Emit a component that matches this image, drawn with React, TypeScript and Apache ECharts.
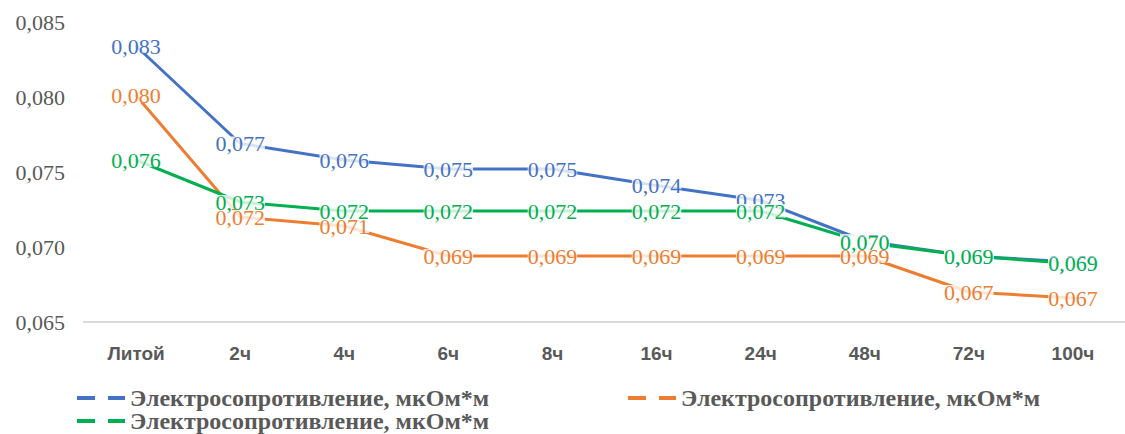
import React, { useEffect, useRef } from "react";
import * as echarts from "echarts";

// Annealing duration categories
const categories = ["Литой", "2ч", "4ч", "6ч", "8ч", "16ч", "24ч", "48ч", "72ч", "100ч"];

// Electrical resistivity, µOhm·m, for three samples
const seriesName = "Электросопротивление, мкОм*м";
const blueValues = [0.0834, 0.0769, 0.0758, 0.0752, 0.0752, 0.0741, 0.0731, 0.0704, 0.0694, 0.069];
const orangeValues = [0.0801, 0.072, 0.0714, 0.0694, 0.0694, 0.0694, 0.0694, 0.0694, 0.067, 0.0666];
const greenValues = [0.0758, 0.073, 0.0724, 0.0724, 0.0724, 0.0724, 0.0724, 0.0703, 0.0694, 0.0689];

// Y axis range
const yMin = 0.065;
const yMax = 0.085;
const yStep = 0.005;

const BLUE = "#4472C4";
const ORANGE = "#ED7D31";
const GREEN = "#00B050";
const GREY = "#595959";
const SERIF = "Liberation Serif";

const fmt = (v: number) => v.toFixed(3).replace(".", ",");

// two short dashes, as in the legend keys
const dashIcon = "path://M0,0H18V4H0Z M31,0H48V4H31Z";

function makeSeries(data: number[], color: string) {
  return {
    type: "line",
    name: seriesName,
    data,
    symbol: "circle",
    symbolSize: 2,
    showSymbol: true,
    lineStyle: { color, width: 3 },
    itemStyle: { color },
    label: {
      show: true,
      position: "inside",
      formatter: (p: any) => fmt(p.value),
      color,
      fontFamily: SERIF,
      fontSize: 22,
      lineHeight: 14,
      backgroundColor: "rgba(255,255,255,0.8)",
      padding: [0, 0],
    },
  };
}

function makeLegend(left: number, top: number, color: string) {
  return {
    left,
    top,
    padding: 0,
    icon: dashIcon,
    itemWidth: 48,
    itemHeight: 4,
    selectedMode: false,
    textStyle: {
      fontFamily: SERIF,
      fontWeight: "bold",
      fontSize: 24,
      color: GREY,
    },
    data: [{ name: seriesName, itemStyle: { color } }],
  };
}

export default function App() {
  const ref = useRef<HTMLDivElement>(null);

  useEffect(() => {
    if (!ref.current) return;
    const chart = echarts.init(ref.current, undefined, { renderer: "svg" });
    chart.setOption({
      animation: false,
      backgroundColor: "#ffffff",
      grid: { left: 84, top: 22, width: 1059, height: 300, containLabel: false },
      legend: [
        makeLegend(77, 386, BLUE),
        makeLegend(628, 386, ORANGE),
        makeLegend(77, 409, GREEN),
      ],
      xAxis: {
        type: "category",
        data: categories,
        boundaryGap: true,
        axisLine: { show: true, lineStyle: { color: "#D9D9D9", width: 2 } },
        axisTick: { show: false },
        splitLine: { show: false },
        axisLabel: {
          color: GREY,
          fontFamily: "Liberation Sans",
          fontWeight: "bold",
          fontSize: 19,
          margin: 22,
          interval: 0,
        },
      },
      yAxis: {
        type: "value",
        min: yMin,
        max: yMax,
        interval: yStep,
        axisLine: { show: false },
        axisTick: { show: false },
        splitLine: { show: false },
        axisLabel: {
          color: GREY,
          fontFamily: SERIF,
          fontSize: 22,
          margin: 19,
          formatter: (v: number) => fmt(v),
        },
      },
      series: [
        makeSeries(blueValues, BLUE),
        makeSeries(orangeValues, ORANGE),
        makeSeries(greenValues, GREEN),
      ],
    });
    return () => chart.dispose();
  }, []);

  return (
    <div
      ref={ref}
      style={{ position: "absolute", left: 0, top: 0, width: 1125, height: 434 }}
    />
  );
}
